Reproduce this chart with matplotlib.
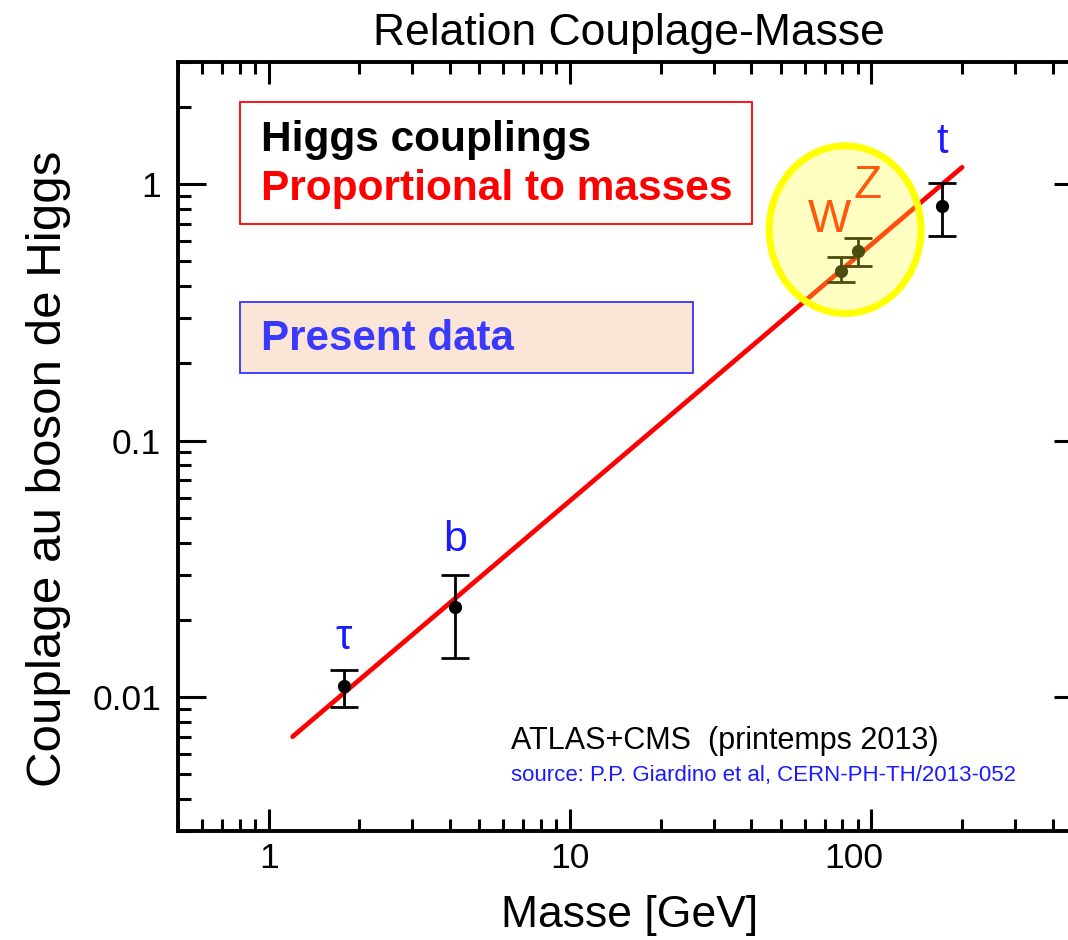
import matplotlib
matplotlib.use("Agg")
import matplotlib.pyplot as plt
from matplotlib.patches import Ellipse, Rectangle
from matplotlib.ticker import FixedLocator, FixedFormatter, NullFormatter
import matplotlib.transforms as mtransforms
import numpy as np

plt.rcParams['font.family'] = ['Liberation Sans', 'DejaVu Sans']

# ---- data ----
particles = ["τ", "b", "W", "Z", "t"]
mass = [1.777, 4.15, 79.5, 90.5, 172.0]
coupling = [0.0110, 0.0225, 0.461, 0.547, 0.82]
err_up = [0.01275, 0.0300, 0.519, 0.615, 1.009]
err_down = [0.00914, 0.0142, 0.414, 0.478, 0.626]

line_mass = [1.2, 200.0]
line_coupling = [0.0070, 1.165]

x_ticks = [1, 10, 100, 1000]
x_ticklabels = ["1", "10", "100", "1000"]
y_ticks = [0.01, 0.1, 1]
y_ticklabels = ["0.01", "0.1", "1"]

W, H = 1068, 940
fig = plt.figure(figsize=(W / 100, H / 100), dpi=100)
ax = fig.add_axes([178 / W, (H - 831) / H, (1082 - 178) / W, 769 / H])
ax.set_xscale("log")
ax.set_yscale("log")
ax.set_xlim(0.5, 500)
ax.set_ylim(0.003, 3)

# theory line
ax.plot(line_mass, line_coupling, color="#ff0000", lw=3.4, zorder=3, solid_capstyle="round")

# data with error bars
c = np.array(coupling)
yerr = np.vstack([c - np.array(err_down), np.array(err_up) - c])
ax.errorbar(mass, coupling, yerr=yerr, fmt="o", color="black", ms=8.5,
            ecolor="black", elinewidth=2.0, capsize=10, capthick=2.0, zorder=4)

# particle labels (offsets relative to the upper error bar)
label_style = {
    "τ": dict(dx=1.0, dy=1.33, color="#1a1aff", size=30),
    "b": dict(dx=1.0, dy=1.37, color="#1a1aff", size=31),
    "W": dict(dx=0.912, dy=1.40, color="#ff1000", size=33),
    "Z": dict(dx=1.07, dy=1.60, color="#ff1000", size=33),
    "t": dict(dx=1.0, dy=1.45, color="#1a1aff", size=30),
}
for p, m, cp, eu in zip(particles, mass, coupling, err_up):
    st = label_style[p]
    ax.text(m * st["dx"], eu * st["dy"], p, color=st["color"], fontsize=st["size"],
            ha="center", va="center", zorder=5)

# highlight ellipse around W, Z
ell = Ellipse((0.738, 0.782), 0.168, 0.218, transform=ax.transAxes,
              facecolor=(1.0, 1.0, 0.2, 0.30), edgecolor="#ffff00", lw=5.0, zorder=6)
ax.add_patch(ell)

# text boxes
ax.add_patch(Rectangle(((240 - 178) / 904, (831 - 224) / 769), (752 - 240) / 904, (224 - 102) / 769,
                       transform=ax.transAxes, facecolor="white", edgecolor="#ff0000", lw=1.3, zorder=2))
ax.text((261 - 178) / 904, (831 - 140) / 769, "Higgs couplings", transform=ax.transAxes,
        fontsize=30.5, fontweight="bold", color="black", va="center", ha="left", zorder=3)
ax.text((261 - 178) / 904, (831 - 189) / 769, "Proportional to masses", transform=ax.transAxes,
        fontsize=30.5, fontweight="bold", color="#ff0000", va="center", ha="left", zorder=3)

ax.add_patch(Rectangle(((240 - 178) / 904, (831 - 373) / 769), (693 - 240) / 904, (373 - 302) / 769,
                       transform=ax.transAxes, facecolor="#fbe5d6", edgecolor="#3333ff", lw=1.3, zorder=2))
ax.text((261 - 178) / 904, (831 - 339) / 769, "Present data", transform=ax.transAxes,
        fontsize=30.3, fontweight="bold", color="#3a3aff", va="center", ha="left", zorder=3)

ax.text((511 - 178) / 904, (831 - 741) / 769, "ATLAS+CMS  (printemps 2013)", transform=ax.transAxes,
        fontsize=22, color="black", va="center", ha="left")
ax.text((511 - 178) / 904, (831 - 775) / 769, "source: P.P. Giardino et al, CERN-PH-TH/2013-052",
        transform=ax.transAxes, fontsize=16, color="#1a1aff", va="center", ha="left")

# axes styling
for s in ax.spines.values():
    s.set_linewidth(2.8)
ax.xaxis.set_major_locator(FixedLocator(x_ticks))
ax.xaxis.set_major_formatter(FixedFormatter(x_ticklabels))
ax.xaxis.set_minor_formatter(NullFormatter())
ax.yaxis.set_major_locator(FixedLocator(y_ticks))
ax.yaxis.set_major_formatter(FixedFormatter(y_ticklabels))
ax.yaxis.set_minor_formatter(NullFormatter())
ax.tick_params(axis="x", which="major", direction="in", length=16, width=2.2, top=True, bottom=True,
               labelsize=25.5, pad=8)
ax.tick_params(axis="x", which="minor", direction="in", length=8.5, width=2.2, top=True, bottom=True)
ax.tick_params(axis="y", which="major", direction="in", length=20, width=2.2, left=True, right=True,
               labelsize=25.5, pad=12)
ax.tick_params(axis="y", which="minor", direction="in", length=9.5, width=2.2, left=True, right=True)

ax.set_xlabel("Masse [GeV]", fontsize=32, labelpad=14)
ax.set_ylabel("Couplage au boson de Higgs", fontsize=35.5)
ax.yaxis.set_label_coords(-0.118, (831 - 469) / 769)
ax.set_title("Relation Couplage-Masse", fontsize=32, x=(629 - 178) / 904, pad=12)

# the "100" label sits slightly left of its tick in the reference
fig.canvas.draw()
for lbl in ax.get_xticklabels():
    if lbl.get_text() == "100":
        lbl.set_transform(lbl.get_transform() +
                          mtransforms.ScaledTranslation(-18 / 100, 0, fig.dpi_scale_trans))

fig.savefig("out.png", dpi=100)
